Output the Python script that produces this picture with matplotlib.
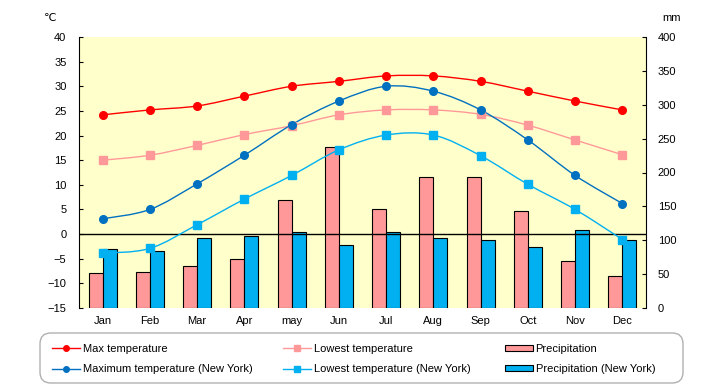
import numpy as np
import matplotlib
matplotlib.use("Agg")
import matplotlib.pyplot as plt
from matplotlib.path import Path
from matplotlib.patches import PathPatch, Patch, FancyBboxPatch
from matplotlib.lines import Line2D

months = ["Jan", "Feb", "Mar", "Apr", "may", "Jun", "Jul", "Aug", "Sep", "Oct", "Nov", "Dec"]
max_temp = [24.2, 25.2, 26.0, 28.0, 30.0, 31.0, 32.1, 32.1, 31.0, 29.0, 27.0, 25.2]
low_temp = [15.0, 16.0, 18.0, 20.2, 22.0, 24.2, 25.2, 25.2, 24.3, 22.1, 19.1, 16.1]
precip = [51, 53, 62, 72, 159, 238, 146, 193, 194, 143, 69, 47]
ny_max = [3.1, 5.0, 10.2, 16.0, 22.2, 27.0, 30.0, 29.0, 25.2, 19.1, 11.9, 6.2]
ny_low = [-3.9, -2.9, 1.9, 7.1, 11.9, 17.1, 20.1, 20.1, 15.9, 10.1, 5.0, -1.1]
ny_precip = [87, 84, 104, 107, 112, 93, 112, 103, 100, 90, 115, 100]

plt.rcParams['font.family'] = ['Liberation Sans', 'DejaVu Sans']

W, H = 720, 385
fig = plt.figure(figsize=(7.2, 3.85), dpi=100)
ax = fig.add_axes([79/W, 1-308/H, (646-79)/W, (308-37)/H])
ax2 = ax.twinx()
ax.set_zorder(ax2.get_zorder() + 1)
ax.patch.set_visible(False)
ax2.patch.set_visible(True)
ax2.set_facecolor('#FFFFCC')

x = np.arange(len(months))
w = 0.296
ax2.bar(x - w/2, precip, width=w, color='#FF9999', edgecolor='black', linewidth=0.8)
ax2.bar(x + w/2, ny_precip, width=w, color='#00B0F0', edgecolor='black', linewidth=0.8)

ax.axhline(0, color='black', lw=1, zorder=1)


def smooth(ax, xs, ys, color):
    xs = np.asarray(xs, float); ys = np.asarray(ys, float)
    pts = np.column_stack([xs, ys])
    n = len(pts)
    verts = [pts[0]]
    codes = [Path.MOVETO]
    for i in range(n - 1):
        p0 = pts[i - 1] if i > 0 else pts[i]
        p1 = pts[i]
        p2 = pts[i + 1]
        p3 = pts[i + 2] if i + 2 < n else pts[i + 1]
        c1 = p1 + (p2 - p0) / 6.0
        c2 = p2 - (p3 - p1) / 6.0
        verts += [c1, c2, p2]
        codes += [Path.CURVE4] * 3
    ax.add_patch(PathPatch(Path(verts, codes), facecolor='none', edgecolor=color, lw=1, zorder=2))


series = [
    (max_temp, '#FF0000', 'o'),
    (low_temp, '#FF9999', 's'),
    (ny_max, '#0070C0', 'o'),
    (ny_low, '#00B0F0', 's'),
]
for ys, c, m in series:
    smooth(ax, x, ys, c)
    ax.plot(x, ys, linestyle='none', marker=m, color=c, markersize=5.5, zorder=3)

ax.set_xlim(-0.5, 11.5)
ax.set_ylim(-15, 40)
ax.set_yticks(np.arange(-15, 41, 5))
ax2.set_ylim(0, 400)
ax2.set_yticks(np.arange(0, 401, 50))
ax.set_xticks(x)
ax.set_xticklabels(months)

for a in (ax, ax2):
    a.spines['top'].set_visible(False)
    a.spines['bottom'].set_visible(False)
    a.tick_params(axis='y', direction='in', length=3, width=0.8, labelsize=8)
    a.tick_params(axis='x', length=0, labelsize=8, pad=6)
ax.spines['right'].set_visible(False)
ax2.spines['left'].set_visible(False)
ax.tick_params(axis='y', pad=9)
ax2.tick_params(axis='y', pad=8.5)

fig.text(50/W, 1-18/H, "℃", fontsize=8, ha='center', va='center', family=['DejaVu Sans'])
fig.text(672/W, 1-18/H, "mm", fontsize=8, ha='center', va='center')

# legend frame
frame = FancyBboxPatch((40/W, 2/H), 643/W, 50/H, boxstyle="round,pad=0,rounding_size=0.015",
                       transform=fig.transFigure, facecolor='white', edgecolor='#B0B0B0',
                       lw=1, zorder=0, mutation_aspect=W/H)
fig.patches.append(frame)

cols = [
    (52, [Line2D([], [], color='#FF0000', marker='o', markersize=4, lw=1),
          Line2D([], [], color='#0070C0', marker='o', markersize=4, lw=1)],
     ["Max temperature", "Maximum temperature (New York)"]),
    (283, [Line2D([], [], color='#FF9999', marker='s', markersize=4, lw=1),
           Line2D([], [], color='#00B0F0', marker='s', markersize=4, lw=1)],
     ["Lowest temperature", "Lowest temperature (New York)"]),
    (505, [Patch(facecolor='#FF9999', edgecolor='black', lw=0.8),
           Patch(facecolor='#00B0F0', edgecolor='black', lw=0.8)],
     ["Precipitation", "Precipitation (New York)"]),
]
for xpx, hs, ls in cols:
    leg = fig.legend(hs, ls, loc='center left', bbox_to_anchor=(xpx/W, 1-359/H),
                     fontsize=8, frameon=False, handlelength=2.5, handleheight=0.45,
                     handletextpad=0.25, labelspacing=0.95, borderpad=0, borderaxespad=0)

fig.savefig("out.png", dpi=100)
